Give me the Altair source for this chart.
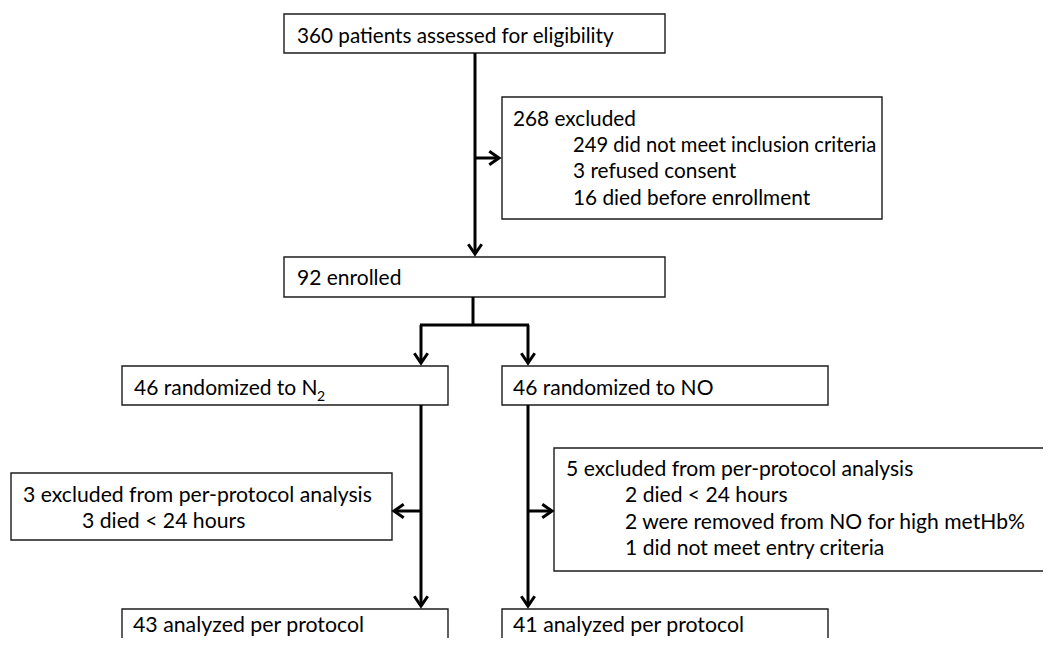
import altair as alt
import pandas as pd

# ---- content ----
box_ids = ["assessed", "excluded", "enrolled", "rand_n2", "rand_no", "pp_ex_n2", "pp_ex_no", "an_n2", "an_no"]
box_x1 = [284, 502, 284, 122, 502, 11, 554, 122, 502]
box_y1 = [14, 97, 257, 366, 366, 473, 448, 609, 609]
box_x2 = [665, 882, 665, 448, 828, 392, 1070, 448, 828]
box_y2 = [53, 219, 297, 405, 405, 540, 571, 670, 670]

texts = [
    "360 patients assessed for eligibility",
    "268 excluded",
    "249 did not meet inclusion criteria",
    "3 refused consent",
    "16 died before enrollment",
    "92 enrolled",
    "46 randomized to N",
    "46 randomized to NO",
    "3 excluded from per-protocol analysis",
    "3 died < 24 hours",
    "5 excluded from per-protocol analysis",
    "2 died < 24 hours",
    "2 were removed from NO for high metHb%",
    "1 did not meet entry criteria",
    "43 analyzed per protocol",
    "41 analyzed per protocol",
]
text_x = [297, 513, 573, 573, 573, 297, 134, 513, 23, 82, 566, 625, 625, 625, 133, 513]
text_y = [37, 120, 146, 172, 199, 279, 389, 389, 496, 522, 470, 496, 523, 549, 626, 626]
text_size = [20.7, 20.8, 20.2, 20.8, 20.8, 21, 21, 21, 21.2, 21.2, 21.1, 21.1, 21.1, 21.1, 21.3, 21.3]

sub_text = ["2"]
sub_x = [317]
sub_y = [397]

# connector lines (x1, y1, x2, y2)
line_x1 = [475, 475, 473, 420, 421, 528, 421, 421, 528, 528]
line_y1 = [53, 158, 297, 325, 325, 325, 405, 511, 405, 511]
line_x2 = [475, 499, 473, 529, 421, 528, 421, 394, 528, 552]
line_y2 = [254, 158, 325, 325, 363, 363, 606, 511, 606, 511]

# arrow heads (tip position, direction)
arrow_x = [475, 499, 421, 528, 394, 421, 552, 528]
arrow_y = [254, 158, 363, 363, 511, 606, 511, 606]
arrow_dir = ["down", "right", "down", "down", "left", "down", "right", "down"]

shape_paths = {
    "down": "M-1,-1.45L0,0L1,-1.45",
    "left": "M1.45,-1L0,0L1.45,1",
    "right": "M-1.45,-1L0,0L-1.45,1",
}

boxes = pd.DataFrame({"id": box_ids, "x1": box_x1, "y1": box_y1, "x2": box_x2, "y2": box_y2})
tdf = pd.DataFrame({"text": texts, "x": text_x, "y": text_y, "size": text_size})
sdf = pd.DataFrame({"text": sub_text, "x": sub_x, "y": sub_y})
ldf = pd.DataFrame({"x1": line_x1, "y1": line_y1, "x2": line_x2, "y2": line_y2})
adf = pd.DataFrame({"x": arrow_x, "y": arrow_y, "path": [shape_paths[d] for d in arrow_dir]})

OFF = 8
W, H = 1051 - 2 * OFF, 646 - 2 * OFF
xs = alt.Scale(domain=[OFF, OFF + W], nice=False, zero=False)
ys = alt.Scale(domain=[OFF, OFF + H], nice=False, zero=False, reverse=True)
FONT = "Lato"

rects = alt.Chart(boxes).mark_rect(fill="white", stroke="#1c1c1c", strokeWidth=1.4, clip=True).encode(
    x=alt.X("x1:Q", scale=xs, axis=None),
    x2="x2:Q",
    y=alt.Y("y1:Q", scale=ys, axis=None),
    y2="y2:Q",
)

lines = alt.Chart(ldf).mark_rule(color="black", strokeWidth=3, strokeCap="butt").encode(
    x=alt.X("x1:Q", scale=xs, axis=None),
    x2="x2:Q",
    y=alt.Y("y1:Q", scale=ys, axis=None),
    y2="y2:Q",
)

heads = alt.Chart(adf).mark_point(
    filled=False, color="black", strokeWidth=3, size=180, opacity=1, strokeJoin="miter", strokeCap="butt"
).encode(
    x=alt.X("x:Q", scale=xs, axis=None),
    y=alt.Y("y:Q", scale=ys, axis=None),
    shape=alt.Shape("path:N", scale=None),
)

labels = alt.Chart(tdf).mark_text(align="left", baseline="middle", font=FONT, color="black").encode(
    x=alt.X("x:Q", scale=xs, axis=None),
    y=alt.Y("y:Q", scale=ys, axis=None),
    text="text:N",
    size=alt.Size("size:Q", scale=None, legend=None),
)

subs = alt.Chart(sdf).mark_text(align="left", baseline="middle", font=FONT, color="black", fontSize=14).encode(
    x=alt.X("x:Q", scale=xs, axis=None),
    y=alt.Y("y:Q", scale=ys, axis=None),
    text="text:N",
)

chart = alt.layer(rects, lines, heads, labels, subs).properties(
    width=W, height=H, padding=0, autosize="none", background="white"
).configure_view(stroke=None)

chart.save("out.html", embed_options={"renderer": "svg", "actions": False})
